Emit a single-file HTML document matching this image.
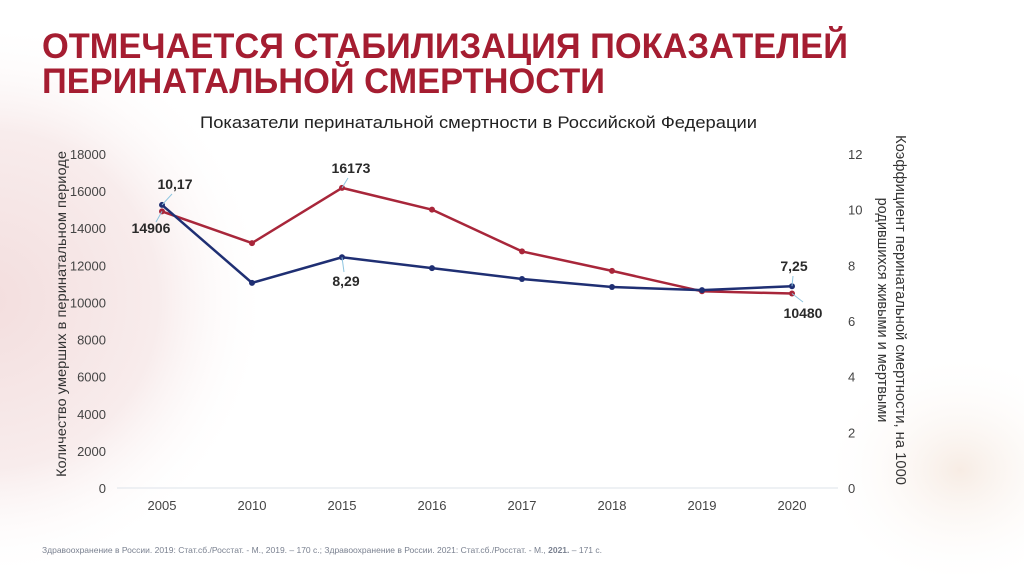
<!DOCTYPE html>
<html><head><meta charset="utf-8"><style>
html,body{margin:0;padding:0;width:1024px;height:574px;overflow:hidden;background:#fff}
svg{display:block}
text{font-family:"Liberation Sans",sans-serif}
</style></head><body>
<svg id="chart" width="1024" height="574" viewBox="0 0 1024 574">
<defs>
<radialGradient id="bg1" cx="0.25" cy="0.5" r="0.5">
<stop offset="0" stop-color="#f3dede"/><stop offset="0.6" stop-color="#f8ecec"/><stop offset="1" stop-color="#fff" stop-opacity="0"/>
</radialGradient>
<radialGradient id="bg2" cx="0.5" cy="0.5" r="0.5">
<stop offset="0" stop-color="#f7ece4"/><stop offset="1" stop-color="#fff" stop-opacity="0"/>
</radialGradient>
</defs>
<rect x="0" y="0" width="1024" height="574" fill="#fff"/>
<rect x="-150" y="20" width="560" height="560" fill="url(#bg1)"/>
<ellipse cx="960" cy="470" rx="140" ry="120" fill="url(#bg2)"/>
<text x="42" y="58" font-size="35" font-weight="bold" fill="#a51d31" textLength="806" lengthAdjust="spacingAndGlyphs">ОТМЕЧАЕТСЯ СТАБИЛИЗАЦИЯ ПОКАЗАТЕЛЕЙ</text>
<text x="42" y="93" font-size="35" font-weight="bold" fill="#a51d31" textLength="563" lengthAdjust="spacingAndGlyphs">ПЕРИНАТАЛЬНОЙ СМЕРТНОСТИ</text>
<text x="200" y="128" font-size="17" fill="#222" textLength="557" lengthAdjust="spacingAndGlyphs">Показатели перинатальной смертности в Российской Федерации</text>
<line x1="117" y1="488" x2="838" y2="488" stroke="#dde3ea" stroke-width="1"/>
<g id="axes"></g>
<g id="series"></g>
<text transform="translate(66,314) rotate(-90)" font-size="14" fill="#333" text-anchor="middle" textLength="326" lengthAdjust="spacingAndGlyphs">Количество умерших в перинатальном периоде</text>
<text transform="translate(896,310) rotate(90)" font-size="14.5" fill="#333" text-anchor="middle" textLength="350" lengthAdjust="spacingAndGlyphs">Коэффициент перинатальной смертности, на 1000</text>
<text transform="translate(878,310) rotate(90)" font-size="14.5" fill="#333" text-anchor="middle">родившихся живыми и мертвыми</text>
<text x="42" y="553" font-size="8.5" fill="#7a8190">Здравоохранение в России. 2019: Стат.сб./Росстат. - М., 2019. – 170 с.; Здравоохранение в России. 2021: Стат.сб./Росстат. - М., <tspan font-weight="bold">2021.</tspan> – 171 с.</text>
</svg>
<script>
const years = ["2005","2010","2015","2016","2017","2018","2019","2020"];
const deaths = [14906, 13200, 16173, 15000, 12750, 11700, 10600, 10480];
const rate = [10.17, 7.37, 8.29, 7.9, 7.51, 7.22, 7.11, 7.25];
const leftTicks = [0,2000,4000,6000,8000,10000,12000,14000,16000,18000];
const rightTicks = [0,2,4,6,8,10,12];
const NS="http://www.w3.org/2000/svg";
const x0=162, dx=90, yBase=488, yTop=154;
const xS=i=>x0+i*dx;
const yL=v=>yBase-(v/18000)*(yBase-yTop);
const yR=v=>yBase-(v/12)*(yBase-yTop);
function mk(tag,attrs,parent,txt){const e=document.createElementNS(NS,tag);for(const k in attrs)e.setAttribute(k,attrs[k]);if(txt!==undefined)e.textContent=txt;parent.appendChild(e);return e;}
const ax=document.getElementById('axes'), se=document.getElementById('series');
leftTicks.forEach(v=>{const t=mk('text',{x:106,y:yL(v)+5,'font-size':13,fill:'#444','text-anchor':'end'},ax,String(v));

});
rightTicks.forEach(v=>{const t=mk('text',{x:848,y:yR(v)+5,'font-size':13,fill:'#444'},ax,String(v));

});
years.forEach((y,i)=>{const t=mk('text',{x:xS(i),y:510,'font-size':13,fill:'#444','text-anchor':'middle'},ax,y);

});
function series(vals,yf,color,name){
const p=mk('polyline',{points:vals.map((v,i)=>xS(i)+','+yf(v)).join(' '),fill:'none',stroke:color,'stroke-width':2.5,'stroke-linejoin':'round'},se);


vals.forEach((v,i)=>{const c=mk('circle',{cx:xS(i),cy:yf(v),r:3,fill:color},se);

});
}
series(deaths,yL,'#a8263a','deaths');
series(rate,yR,'#1f2f73','rate');
function lbl(txt,x,y,lx1,ly1,lx2,ly2,name){
mk('line',{x1:lx1,y1:ly1,x2:lx2,y2:ly2,stroke:'#8ec5e0','stroke-width':1},se);
const t=mk('text',{x:x,y:y,'font-size':14,'font-weight':'bold',fill:'#2a2a2a','text-anchor':'middle'},se,txt);

}
const last=years.length-1;
lbl(String(deaths[0]).replace('.',','),151,233,xS(0),yL(deaths[0]),156,222,'label-deaths-2005');
lbl(String(rate[0]).replace('.',','),175,189,xS(0),yR(rate[0]),172,194,'label-rate-2005');
lbl(String(deaths[2]),351,173,xS(2),yL(deaths[2]),348,178,'label-deaths-2015');
lbl(String(rate[2]).replace('.',','),346,286,xS(2),yR(rate[2]),344,272,'label-rate-2015');
lbl(String(rate[last]).replace('.',','),794,271,xS(last),yR(rate[last]),793,276,'label-rate-2020');
lbl(String(deaths[last]),803,318,xS(last),yL(deaths[last]),803,302,'label-deaths-2020');
</script>
</body></html>
